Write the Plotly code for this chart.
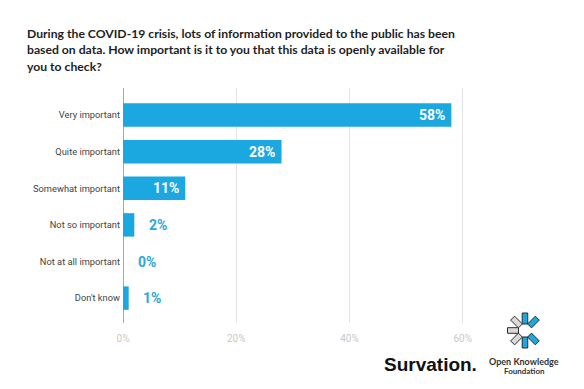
import math
import plotly.graph_objects as go

categories = ["Very important", "Quite important", "Somewhat important",
              "Not so important", "Not at all important", "Don't know"]
values = [58, 28, 11, 2, 0, 1]
label_inside = [True, True, True, False, False, False]
tick_vals = [0, 20, 40, 60]
tick_text = ["0%", "20%", "40%", "60%"]
title_lines = ["During the COVID-19 crisis, lots of information provided to the public has been",
               "based on data. How important is it to you that this data is openly available for",
               "you to check?"]

W, H = 584, 389
L, R, T, B = 122.5, 109.6, 88, 66
PW, PH = W - L - R, H - T - B
BLUE = "#1ba7df"


def px(x):
    return (x - L) / PW


def py(y):
    return (H - B - y) / PH


fig = go.Figure()
fig.add_trace(go.Bar(
    x=values, y=list(range(len(categories))), orientation="h",
    marker=dict(color=BLUE, line=dict(width=0)), width=0.64,
    hoverinfo="skip",
))

annotations = []
for i, (v, inside) in enumerate(zip(values, label_inside)):
    annotations.append(dict(
        x=v, y=i, xref="x", yref="y", text=f"{v}%", showarrow=False,
        xanchor="right" if inside else "left",
        xshift=-4.5 if inside else 12.5,
        font=dict(family="Roboto", size=14, color="white" if inside else "#2aa8e0", weight="bold"),
    ))

# Title (three lines)
for line, yc in zip(title_lines, [33.0, 49.5, 66.0]):
    annotations.append(dict(
        x=px(24.5), y=py(yc), xref="paper", yref="paper", text=line, showarrow=False,
        xanchor="left", yanchor="middle", align="left",
        font=dict(family="Lato", size=12.2, color="#1e1e1e", weight="bold"),
    ))
# Logos text
annotations.append(dict(
    x=px(431), y=py(364), xref="paper", yref="paper", text="Survation.", showarrow=False,
    xanchor="center", yanchor="middle",
    font=dict(family="Liberation Sans", size=19, color="#111111", weight="bold"),
))
annotations.append(dict(
    x=px(525), y=py(361), xref="paper", yref="paper", text="Open Knowledge", showarrow=False,
    xanchor="center", yanchor="middle",
    font=dict(family="Lato", size=9, color="#333333", weight="bold"),
))
annotations.append(dict(
    x=px(525), y=py(370.5), xref="paper", yref="paper", text="Foundation", showarrow=False,
    xanchor="center", yanchor="middle",
    font=dict(family="Lato", size=8, color="#333333", weight="bold"),
))

# OKF icon: arms around a centre
shapes = []
cx, cy = 525.5, 330.5
arms = [(90, BLUE), (45, BLUE), (-45, BLUE), (-90, BLUE),
        (-135, "#d9d9d9"), (180, "#d9d9d9"), (135, "#d9d9d9")]
r0, r1, hw = 6.5, 17.5, 2.8
for ang, col in arms:
    a = math.radians(ang)
    ux, uy = math.cos(a), -math.sin(a)
    nx, ny = -uy, ux
    pts = [(cx + ux * r0 + nx * hw, cy + uy * r0 + ny * hw),
           (cx + ux * r1 + nx * hw, cy + uy * r1 + ny * hw),
           (cx + ux * r1 - nx * hw, cy + uy * r1 - ny * hw),
           (cx + ux * r0 - nx * hw, cy + uy * r0 - ny * hw)]
    path = "M " + " L ".join(f"{px(x):.5f},{py(y):.5f}" for x, y in pts) + " Z"
    shapes.append(dict(type="path", path=path, xref="paper", yref="paper",
                       fillcolor=col, line=dict(color="#2b2b2b", width=1)))

fig.update_layout(
    width=W, height=H, margin=dict(l=L, r=R, t=T, b=B, pad=0),
    paper_bgcolor="white", plot_bgcolor="white", showlegend=False,
    annotations=annotations, shapes=shapes,
    xaxis=dict(range=[0, 62], tickvals=tick_vals, ticktext=tick_text,
               showgrid=True, gridcolor="#e4e4e4", gridwidth=1,
               zeroline=True, zerolinecolor="#a8a8a8", zerolinewidth=1,
               showline=False, ticks="", ticklabelstandoff=8,
               tickfont=dict(family="Roboto", size=10, color="#c9c9c9")),
    yaxis=dict(range=[5.68, -0.74], tickvals=list(range(len(categories))), ticktext=categories,
               showgrid=False, zeroline=False, showline=False, ticks="",
               ticklabelstandoff=2,
               tickfont=dict(family="Roboto", size=9.3, color="#444444")),
)

fig.write_html("out.html", config={"displayModeBar": False},
               post_script="document.body.style.margin='0px';")
